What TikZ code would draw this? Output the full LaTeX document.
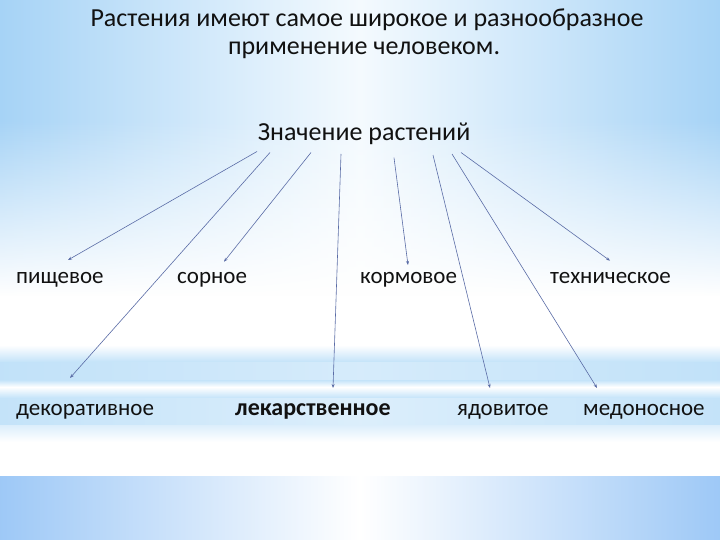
\documentclass[tikz,border=0pt]{standalone}
\usepackage{fontspec}
\setmainfont{Carlito}
\usetikzlibrary{arrows.meta,fadings}
\definecolor{bgblue}{HTML}{A6D3F6}
\definecolor{bglight}{HTML}{F4FAFE}
\definecolor{bandblue}{HTML}{C4E3F9}
\definecolor{linecol}{HTML}{5A6CA6}
\definecolor{txt}{HTML}{111111}
\tikzset{
  lbl/.style={anchor=base west, inner sep=0pt, font=\fontsize{23}{28}\selectfont, text=txt},
  head/.style={anchor=base, inner sep=0pt, font=\fontsize{26}{30}\selectfont, text=txt},
  conn/.style={draw=linecol, line width=0.6pt, -{Stealth[length=4pt,width=3pt]}},
}
\begin{document}
\begin{tikzpicture}[x=1pt,y=-1pt]
\useasboundingbox (0,0) rectangle (720,540);
% background
\shade[left color=bgblue, right color=bgblue, middle color=bglight] (0,0) rectangle (720,296);
\fill[white, path fading=north] (0,120) rectangle (720,296);
\fill[white] (0,296) rectangle (720,345);
\shade[top color=white, bottom color=bandblue] (0,345) rectangle (720,362);
\shade[left color=bandblue!90!bgblue, right color=bandblue!90!bgblue, middle color=bandblue!70] (0,362) rectangle (720,380);
\shade[top color=bandblue, bottom color=white] (0,380) rectangle (720,387);
\shade[top color=white, bottom color=bandblue] (0,387) rectangle (720,398);
\shade[left color=bandblue, right color=bandblue, middle color=bandblue!60] (0,398) rectangle (720,425);
\shade[top color=bandblue!60, bottom color=white] (0,425) rectangle (720,442);
\fill[white] (0,442) rectangle (720,476);
\shade[left color=bgblue!95!blue, right color=bgblue!95!blue, middle color=white] (0,476) rectangle (720,540);
% title
\node[head] (t1) at (367,27) {Растения имеют самое широкое и разнообразное};
\node[head] (t2) at (364,55) {применение человеком.};
\node[head] (root) at (364,140.5) {Значение растений};
% labels
\node[lbl] (pish) at (16,283) {пищевое};
\node[lbl] (sorn) at (177,283) {сорное};
\node[lbl] (korm) at (360,283) {кормовое};
\node[lbl] (tech) at (550,283) {техническое};
\node[lbl] (dek) at (16,415) {декоративное};
\node[lbl, font=\fontsize{24}{28}\selectfont\bfseries] (lek) at (235,415) {лекарственное};
\node[lbl] (yad) at (457,415) {ядовитое};
\node[lbl] (med) at (583,415) {медоносное};
% connector ends
\coordinate (s1) at (257,151.5); \coordinate (e1) at (68,260);
\coordinate (s2) at (270,152.5); \coordinate (e2) at (70,378);
\coordinate (s3) at (311,152.5); \coordinate (e3) at (224,261.7);
\coordinate (s4) at (341,154);   \coordinate (e4) at (333,388);
\coordinate (s5) at (394,157.7); \coordinate (e5) at (408,265);
\coordinate (s6) at (433,155);   \coordinate (e6) at (490,388);
\coordinate (s7) at (452,154);   \coordinate (e7) at (597,388);
\coordinate (s8) at (461,152.5); \coordinate (e8) at (610,260.7);
\draw[conn] (s1) -- (e1);
\draw[conn] (s2) -- (e2);
\draw[conn] (s3) -- (e3);
\draw[conn] (s4) -- (e4);
\draw[conn] (s5) -- (e5);
\draw[conn] (s6) -- (e6);
\draw[conn] (s7) -- (e7);
\draw[conn] (s8) -- (e8);
\end{tikzpicture}
\end{document}
